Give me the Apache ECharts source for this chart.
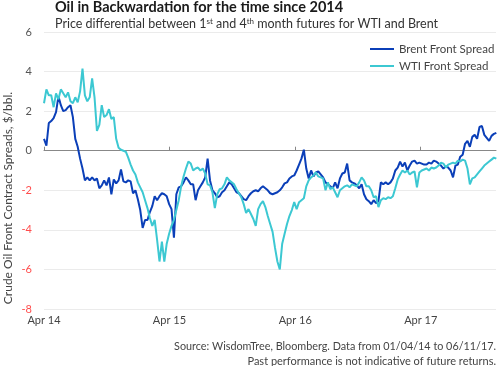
<!DOCTYPE html>
<html>
<head>
<meta charset="utf-8">
<script src="https://cdn.jsdelivr.net/npm/echarts@6/dist/echarts.min.js"></script>
<style>html,body{margin:0;padding:0;background:#fff}#c{width:500px;height:366px}</style>
</head>
<body>
<div id="c"></div>
<script>
// Weekly sampling grid starting 2014-04-01
const startDate = '2014-04-01';
const stepDays = 7;
const brent = [
 0.6, 0.25, 1.4, 1.5, 1.65, 1.95, 2.75, 2.3, 2.0, 2.05,
 2.2, 2.3, 1.7, 0.6, 0.2, -0.4, -0.9, -1.5, -1.35, -1.5,
 -1.35, -1.5, -1.4, -1.9, -1.75, -1.5, -1.75, -1.35, -2.2, -1.45,
 -1.65, -1.5, -0.95, -1.55, -1.6, -1.5, -1.55, -2.15, -2.0, -2.45,
 -3.0, -3.9, -3.5, -3.5, -3.1, -2.8, -2.3, -2.5, -2.3, -2.15,
 -2.2, -2.3, -2.7, -2.95, -4.4, -2.2, -1.85, -1.8, -1.6, -1.35,
 -1.5, -1.7, -1.7, -2.5, -2.0, -1.8, -1.6, -1.35, -0.4, -1.5,
 -2.0, -2.15, -2.35, -2.3, -2.1, -2.0, -1.8, -1.6, -1.7, -1.9,
 -2.1, -2.15, -2.3, -2.45, -2.5, -2.3, -2.15, -2.05, -2.0, -2.05,
 -1.9, -1.8, -1.9, -2.0, -2.15, -2.2, -2.15, -2.1, -2.0, -1.85,
 -1.65, -1.6, -1.4, -1.3, -1.25, -1.0, -0.7, -0.4, 0.05, -0.9,
 -1.4, -1.0, -1.3, -1.1, -1.05, -1.2, -1.35, -1.6, -1.7, -1.8,
 -1.9, -1.6, -1.9, -1.4, -1.15, -1.1, -0.65, -1.5, -1.6, -1.65,
 -1.75, -1.9, -1.7, -2.2, -2.45, -2.55, -2.7, -2.5, -2.65, -2.55,
 -1.6, -1.7, -1.6, -1.7, -1.6, -1.4, -1.0, -0.85, -0.55, -0.8,
 -0.6, -1.0, -0.75, -0.55, -0.5, -0.65, -0.6, -0.65, -0.7, -0.7,
 -0.6, -0.65, -0.5, -0.55, -0.65, -0.75, -0.9, -0.8, -0.85, -1.0,
 -1.35, -0.75, -0.7, -0.3, -0.2, 0.35, 0.5, 0.2, 0.7, 0.8,
 0.6, 1.2, 1.25, 0.8, 0.65, 0.5, 0.75, 0.85, 0.9
];
const wti = [
 2.4, 3.1, 2.8, 2.8, 2.2, 2.9, 2.6, 3.1, 2.9, 2.7,
 2.95, 2.5, 2.4, 2.7, 2.45, 3.0, 4.15, 2.8, 2.5, 2.7,
 3.65, 2.7, 1.0, 1.3, 2.3, 1.7, 1.8, 2.1, 1.6, 1.7,
 0.6, 0.15, 0.05, 0.0, -0.05, -0.35, -0.7, -1.0, -1.2, -1.6,
 -1.85, -2.1, -2.5, -2.9, -3.4, -3.8, -3.5, -4.5, -5.6, -4.6,
 -5.6, -4.7, -4.2, -3.8, -3.5, -3.0, -2.5, -1.8, -1.3, -0.9,
 -0.55, -0.65, -1.0, -0.9, -0.85, -1.0, -0.9, -1.15, -1.7, -1.75,
 -2.1, -2.9, -2.2, -1.95, -1.9, -1.7, -1.35, -1.5, -1.6, -1.7,
 -1.95, -2.15, -2.35, -2.7, -3.15, -2.95, -3.2, -3.45, -3.8, -2.95,
 -2.7, -2.55, -2.85, -3.3, -3.7, -4.1, -4.9, -5.6, -6.0, -4.7,
 -4.2, -3.7, -3.3, -3.0, -2.6, -2.95, -2.6, -2.5, -2.4, -1.8,
 -1.5, -1.35, -1.25, -1.1, -1.3, -1.35, -1.4, -2.0, -1.6, -1.95,
 -1.85, -2.1, -2.35, -2.0, -1.9, -1.8, -1.75, -1.85, -1.7, -1.75,
 -1.8, -1.6, -1.35, -1.5, -1.8, -1.8, -2.0, -2.35, -2.3, -2.85,
 -2.5, -2.4, -2.45, -2.35, -2.4, -2.3, -1.9, -1.45, -1.2, -1.0,
 -1.1, -1.0, -1.2, -1.1, -1.05, -1.85, -1.1, -1.0, -0.95, -0.9,
 -1.0, -0.85, -0.9, -0.85, -0.75, -0.6, -0.65, -0.85, -0.7, -0.65,
 -0.6, -0.65, -0.5, -0.55, -0.45, -0.5, -0.9, -1.7, -1.4, -1.35,
 -1.2, -1.05, -0.9, -0.75, -0.65, -0.55, -0.45, -0.35, -0.4
];
const tickDates = ['2014-04-01', '2015-04-01', '2016-04-01', '2017-04-01'];
const tickLabels = ['Apr 14', 'Apr 15', 'Apr 16', 'Apr 17'];
const xMin = '2014-04-01';
const xMax = '2017-11-06';
const seriesNames = ['Brent Front Spread', 'WTI Front Spread'];

// x is measured in days since startDate
const DAY = 86400000;
const ts = d => Date.parse(d + 'T00:00:00Z');
const t0 = ts(startDate);
const dayOf = d => Math.round((ts(d) - t0) / DAY);
const toPairs = arr => arr.map((v, i) => [i * stepDays, v]);
const tickDays = tickDates.map(dayOf);
const FONT = 'Lato';

const chart = echarts.init(document.getElementById('c'), null, {renderer: 'canvas'});
chart.setOption({
  animation: false,
  textStyle: {fontFamily: FONT},
  title: {
    text: 'Oil in Backwardation for the time since 2014',
    subtext: '{n|Price differential between 1}{s|st}{n| and 4}{s|th}{n| month futures for WTI and Brent}',
    left: 55, top: 0, itemGap: 2, padding: 0,
    textStyle: {fontFamily: FONT, fontSize: 14.5, fontWeight: 'bold', color: '#1a1a1a'},
    subtextStyle: {
      rich: {
        n: {fontFamily: FONT, fontSize: 12.5, color: '#333'},
        s: {fontFamily: FONT, fontSize: 8, color: '#333', verticalAlign: 'top', padding: [0, 0, 6, 0]}
      }
    }
  },
  legend: {
    orient: 'vertical', left: 365, top: 38, itemGap: 5,
    icon: 'rect', itemWidth: 24, itemHeight: 2,
    textStyle: {fontFamily: FONT, fontSize: 11.5, color: '#444'},
    data: seriesNames
  },
  grid: {left: 44, right: 4, top: 32, bottom: 57, outerBoundsMode: 'none', containLabel: false},
  xAxis: {
    type: 'value', min: dayOf(xMin), max: dayOf(xMax),
    axisLine: {onZero: true, lineStyle: {color: '#888', width: 1}},
    axisTick: {show: true, inside: true, length: 4, lineStyle: {color: '#888'}, customValues: tickDays},
    axisLabel: {
      customValues: tickDays, margin: 6, color: '#444', fontSize: 11, fontFamily: FONT,
      formatter: v => tickLabels[tickDays.indexOf(v)] || ''
    },
    splitLine: {show: false}
  },
  yAxis: {
    type: 'value', min: -8, max: 6, interval: 2,
    axisLine: {show: false}, axisTick: {show: false},
    axisLabel: {
      margin: 12, fontSize: 11, fontFamily: FONT,
      color: v => (Number(v) < 0 ? '#ff4d4d' : '#555')
    },
    splitLine: {lineStyle: {color: '#ebebeb'}}
  },
  graphic: [
    {type: 'text', x: 8, y: 198, rotation: Math.PI / 2,
     style: {text: 'Crude Oil Front Contract Spreads, $/bbl.', fontFamily: FONT, fontSize: 12, fill: '#444', align: 'center', verticalAlign: 'middle'}},
    {type: 'text', right: 4, top: 341,
     style: {text: 'Source: WisdomTree, Bloomberg. Data from 01/04/14 to 06/11/17.', fontFamily: FONT, fontSize: 10.8, fill: '#444', align: 'right'}},
    {type: 'text', right: 4, top: 356,
     style: {text: 'Past performance is not indicative of future returns.', fontFamily: FONT, fontSize: 11, fill: '#444', align: 'right'}}
  ],
  series: [
    {name: seriesNames[0], type: 'line', data: toPairs(brent), showSymbol: false, symbol: 'none',
     lineStyle: {color: '#0b3fb8', width: 2}, itemStyle: {color: '#0b3fb8'}},
    {name: seriesNames[1], type: 'line', data: toPairs(wti), showSymbol: false, symbol: 'none',
     lineStyle: {color: '#3cc8d2', width: 2}, itemStyle: {color: '#3cc8d2'}}
  ]
});
</script>
</body>
</html>
